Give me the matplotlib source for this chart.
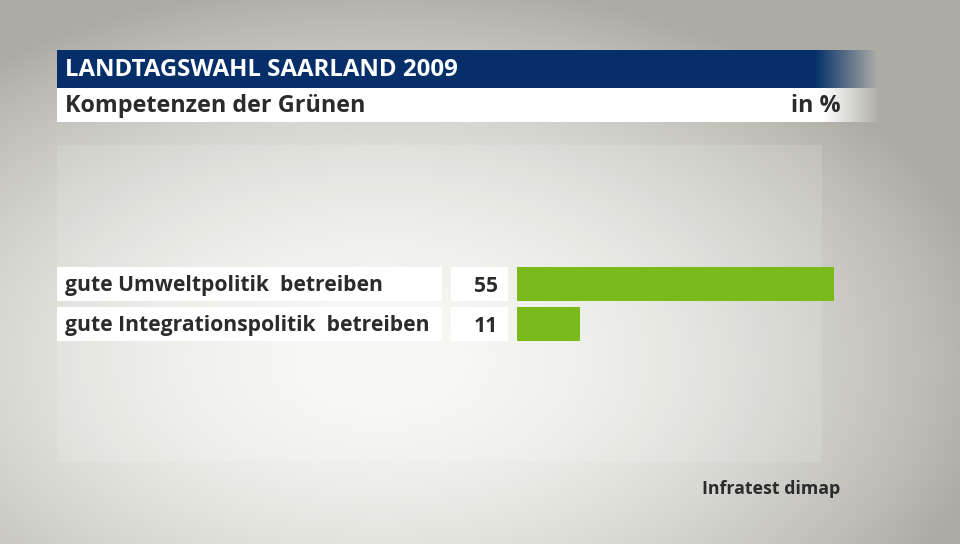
import matplotlib
matplotlib.use('Agg')
import matplotlib.pyplot as plt
import numpy as np
from matplotlib.patches import Rectangle

# data
categories = ['gute Umweltpolitik  betreiben', 'gute Integrationspolitik  betreiben']
values = [55, 11]
title = 'LANDTAGSWAHL SAARLAND 2009'
subtitle = 'Kompetenzen der Grünen'
unit = 'in %'
source = 'Infratest dimap'

W, H = 960, 544
plt.rcParams['font.family'] = ['Open Sans', 'DejaVu Sans']
fig = plt.figure(figsize=(W / 100, H / 100), dpi=100)

# background: grey with a light centre
bg = fig.add_axes([0, 0, 1, 1])
bg.axis('off')
yy, xx = np.mgrid[0:H, 0:W]
d = np.sqrt(((xx - 380) / 620.0) ** 2 + ((yy - 360) / 380.0) ** 2)
d = np.clip(d, 0, 1) ** 1.8
c_in = np.array([0.970, 0.970, 0.955])
c_out = np.array([0.68, 0.675, 0.645])
img = c_in[None, None, :] * (1 - d[..., None]) + c_out[None, None, :] * d[..., None]
bg.imshow(img, extent=(0, W, H, 0), aspect='auto', zorder=0)

# faint panel behind chart
bg.add_patch(Rectangle((57, 145), 765, 317, facecolor='white', alpha=0.12, edgecolor='none', zorder=1))

# title bar with fade on the right
blue = np.array([0.024, 0.188, 0.416])
grey = np.array([0.69, 0.686, 0.655])
bar_x0, bar_x1, fade0 = 57, 878, 815
xs = np.arange(bar_x0, bar_x1)
t = np.clip((xs - fade0) / (bar_x1 - fade0), 0, 1)[None, :, None]
strip = blue * (1 - t) + grey * t
bg.imshow(strip, extent=(bar_x0, bar_x1, 88, 50), aspect='auto', zorder=2)
white = np.array([1.0, 1.0, 1.0])
fade1 = 822
t2 = np.clip((xs - fade1) / (bar_x1 - fade1), 0, 1)[None, :, None]
strip2 = white * (1 - t2) + grey * t2
bg.imshow(strip2, extent=(bar_x0, bar_x1, 122, 88), aspect='auto', zorder=2)
bg.set_xlim(0, W)
bg.set_ylim(H, 0)

bg.text(65, 70, title, color='white', fontsize=17.3, fontweight='bold', va='center', ha='left', zorder=3)
bg.text(65, 106, subtitle, color='#2b2b2b', fontsize=16.8, fontweight='bold', va='center', ha='left', zorder=3)
bg.text(841, 106, unit, color='#2b2b2b', fontsize=16.8, fontweight='bold', va='center', ha='right', zorder=3)
bg.text(840, 489, source, color='#2b2b2b', fontsize=12.8, fontweight='bold', va='center', ha='right', zorder=3)

# rows
row_top = [267, 307]
row_h = 34
for i, (cat, v) in enumerate(zip(categories, values)):
    y0 = row_top[i]
    bg.add_patch(Rectangle((57, y0), 385, row_h, facecolor='white', edgecolor='none', zorder=3))
    bg.add_patch(Rectangle((451, y0), 57, row_h, facecolor='white', edgecolor='none', zorder=3))
    bg.text(65, y0 + row_h / 2 + 2, cat, color='#2b2b2b', fontsize=15.2, fontweight='bold', va='center', ha='left', zorder=4)
    bg.text(498, y0 + row_h / 2 + 2, str(v), color='#2b2b2b', fontsize=15.2, fontweight='bold', va='center', ha='right', zorder=4)

# bars
ax = fig.add_axes([517 / W, 1 - 341 / H, 317 / W, 74 / H])
ax.patch.set_alpha(0)
ypos = [0, 1]
ax.barh(ypos, values, height=row_h / 40.0, color='#78bb1b', left=0)
ax.set_xlim(0, 55)
ax.set_ylim(1 + 0.5 * row_h / 40.0 + 0.01, 0 - 0.5 * row_h / 40.0 - 0.01)
ax.axis('off')

fig.savefig('out.png', dpi=100)
